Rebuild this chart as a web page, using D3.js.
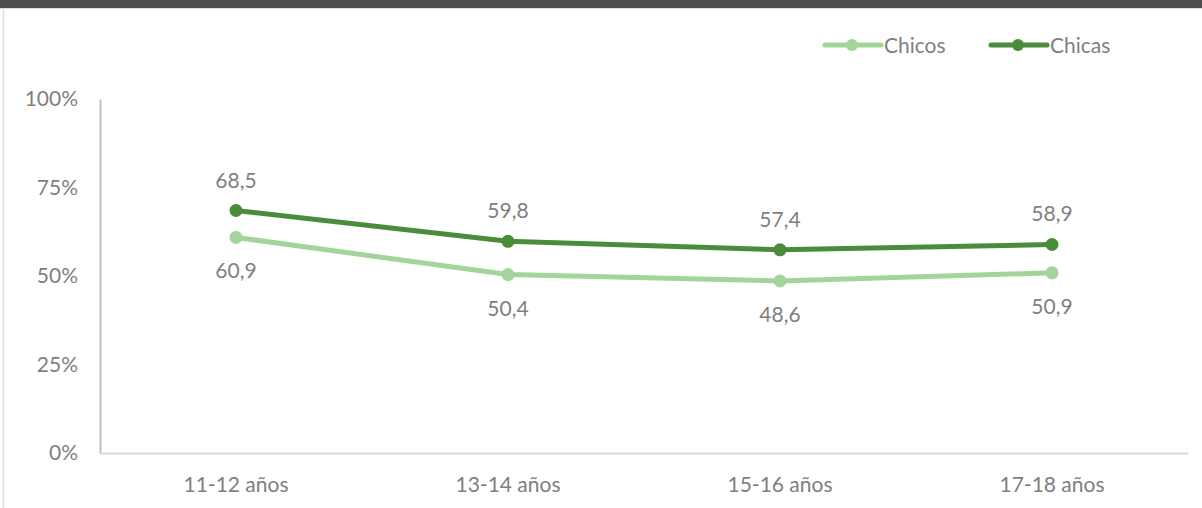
<!DOCTYPE html>
<html><head><meta charset="utf-8">
<script src="https://cdn.jsdelivr.net/npm/d3@7"></script>
<style>
html,body{margin:0;padding:0;background:#fff;}
svg{display:block;font-family:Lato,"Open Sans",sans-serif;}
</style></head>
<body>
<svg id="chart" width="1202" height="508"></svg>
<script>
const categories = ["11-12 años","13-14 años","15-16 años","17-18 años"];
const chicos = [60.9, 50.4, 48.6, 50.9];
const chicas = [68.5, 59.8, 57.4, 58.9];
const yTicks = [0, 25, 50, 75, 100];
const seriesNames = ["Chicos","Chicas"];
const seriesColors = ["#a3d49a","#4a8c3a"];

const svg = d3.select("#chart");
const fs = 21;
// top dark bar and frame
svg.append("rect").attr("x",0).attr("y",0).attr("width",1202).attr("height",8).attr("fill","#4d4d4d");
svg.append("line").attr("x1",0).attr("x2",1202).attr("y1",8.5).attr("y2",8.5).attr("stroke","#d9d9d9").attr("stroke-width",1);
svg.append("line").attr("x1",3.5).attr("x2",3.5).attr("y1",8).attr("y2",508).attr("stroke","#e3e3e3").attr("stroke-width",1.5);

const x = d3.scaleBand().domain(categories).range([100,1188]);
const y = d3.scaleLinear().domain([0,100]).range([453,99]);
const textColor = "#7f7f7f";

// y axis
const yAxis = svg.append("g").attr("transform","translate(100,0)")
  .call(d3.axisLeft(y).tickValues(yTicks).tickSize(0).tickPadding(22).tickFormat(d=>d+"%"));
yAxis.select(".domain").attr("stroke","#bfbfbf").attr("stroke-width",2);
yAxis.selectAll("text").attr("fill",textColor).attr("font-size",fs).attr("font-family","Lato,'Open Sans',sans-serif");

// x axis
const xAxis = svg.append("g").attr("transform","translate(0,453)")
  .call(d3.axisBottom(x).tickSize(0).tickPadding(24));
xAxis.select(".domain").attr("stroke","#d9d9d9").attr("stroke-width",2);
xAxis.selectAll("text").attr("fill",textColor).attr("font-size",fs).attr("font-family","Lato,'Open Sans',sans-serif");

const cx = c => x(c) + x.bandwidth()/2;
const line = d3.line().x((d,i)=>cx(categories[i])).y(d=>y(d));

[chicos, chicas].forEach((data,si)=>{
  const g = svg.append("g");
  g.append("path").datum(data).attr("d",line).attr("fill","none")
    .attr("stroke",seriesColors[si]).attr("stroke-width",5).attr("stroke-linejoin","round");
  g.selectAll("circle").data(data).enter().append("circle")
    .attr("cx",(d,i)=>cx(categories[i])).attr("cy",d=>y(d)).attr("r",6.5).attr("fill",seriesColors[si]);
  g.selectAll("text").data(data).enter().append("text")
    .attr("x",(d,i)=>cx(categories[i]))
    .attr("y",d=> si===0 ? y(d)+41 : y(d)-23)
    .attr("text-anchor","middle").attr("fill",textColor).attr("font-size",fs)
    .text(d=>d.toFixed(1).replace(".",","));
});

// legend
const legendX = [825, 991];
seriesNames.forEach((n,i)=>{
  const g = svg.append("g").attr("transform",`translate(${legendX[i]},45)`);
  g.append("line").attr("x1",0).attr("x2",56).attr("y1",0).attr("y2",0)
    .attr("stroke",seriesColors[i]).attr("stroke-width",5).attr("stroke-linecap","round");
  g.append("circle").attr("cx",27).attr("cy",0).attr("r",6).attr("fill",seriesColors[i]);
  g.append("text").attr("x",59).attr("y",7.5).attr("fill",textColor).attr("font-size",fs).text(n);
});
</script>
</body></html>
